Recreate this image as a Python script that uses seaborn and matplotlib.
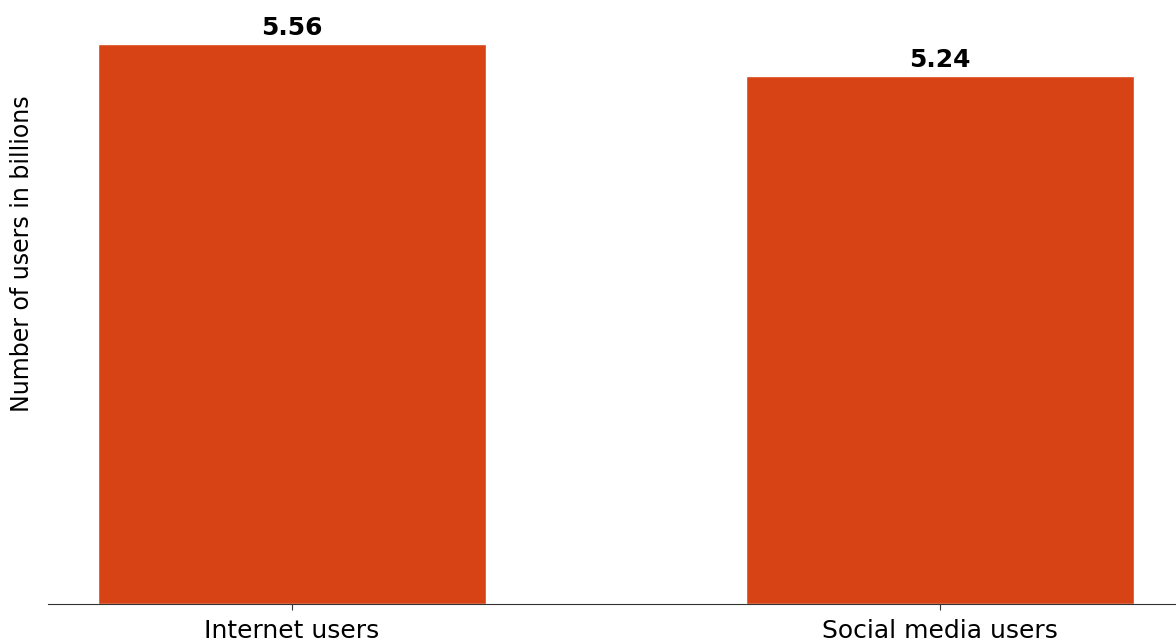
import matplotlib
matplotlib.use("Agg")
import matplotlib.pyplot as plt
import seaborn as sns
import pandas as pd

categories = ["Internet users", "Social media users"]
users_billions = [5.56, 5.24]
bar_color = "#D84315"

df = pd.DataFrame({"category": categories, "users": users_billions})

sns.set_style("white")
plt.rcParams["font.family"] = ["DejaVu Sans"]
plt.rcParams["text.color"] = "black"
plt.rcParams["axes.labelcolor"] = "black"

fig = plt.figure(figsize=(11.76, 6.44), dpi=100)
# axes run past the top and right edges of the canvas
ax = fig.add_axes([48 / 1176, 40 / 644, 1138 / 1176, 700 / 644])

sns.barplot(data=df, x="category", y="users", color=bar_color,
            width=0.6, saturation=1, ax=ax)

for patch, val in zip(ax.patches, users_billions):
    ax.annotate(f"{val:.2f}",
                (patch.get_x() + patch.get_width() / 2, patch.get_height()),
                xytext=(0, 3), textcoords="offset points",
                ha="center", va="bottom", fontsize=18, fontweight="bold")

ax.set_xlim(-244 / 648, -244 / 648 + 1138 / 648)
ax.set_ylim(0, 5.56 * 1.25)
ax.set_xlabel("")
ax.set_ylabel("Number of users in billions", fontsize=17, labelpad=10)
ax.set_yticks([])
ax.tick_params(axis="x", labelsize=18, length=4, pad=6.5, bottom=True,
               color="#333333", labelcolor="black")
for side in ["top", "right", "left"]:
    ax.spines[side].set_visible(False)
ax.spines["bottom"].set_color("#333333")

fig.savefig("out.png", dpi=100)
